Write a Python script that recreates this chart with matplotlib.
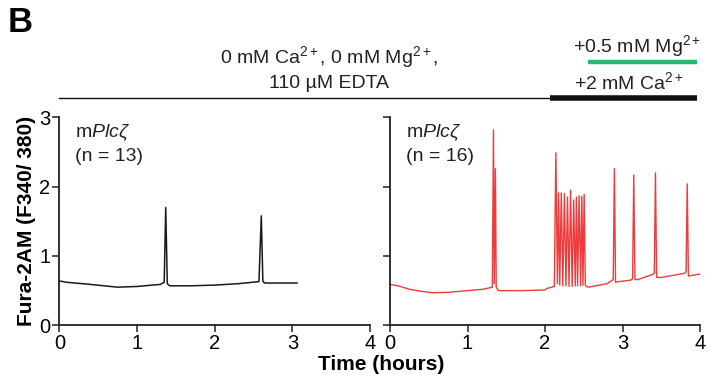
import numpy as np
import matplotlib
matplotlib.use("Agg")
import matplotlib.pyplot as plt
from matplotlib.lines import Line2D

plt.rcParams['font.family'] = ['Liberation Sans', 'DejaVu Sans']
plt.rcParams['mathtext.fontset'] = 'custom'
plt.rcParams['mathtext.rm'] = 'Liberation Sans'
plt.rcParams['mathtext.it'] = 'Liberation Sans:italic'
plt.rcParams['mathtext.bf'] = 'Liberation Sans:bold'

# left trace (0 mM Ca/Mg the whole time), hours vs F340/380
t_left = [0.0, 0.1, 0.4, 0.75, 1.0, 1.3, 1.35, 1.37, 1.39, 1.42, 1.7, 2.0, 2.3, 2.57, 2.6, 2.62, 2.64, 2.8, 3.06]
v_left = [0.64, 0.62, 0.59, 0.55, 0.56, 0.59, 0.62, 1.70, 0.60, 0.57, 0.57, 0.58, 0.60, 0.63, 1.58, 0.64, 0.61, 0.61, 0.61]

# right trace (Ca2+ and Mg2+ added back after ~2 h)
t_right = [0.0, 0.1, 0.25, 0.4, 0.55, 0.75, 1.0, 1.2, 1.32, 1.335, 1.345, 1.36, 1.37, 1.4, 1.7, 2.0, 2.02, 2.12,
           2.14, 2.16,
           2.175, 2.19, 2.21, 2.23, 2.25, 2.27, 2.29, 2.31, 2.33, 2.35, 2.37, 2.39, 2.405,
           2.42, 2.44, 2.46, 2.475, 2.49, 2.505, 2.52, 2.535,
           2.56, 2.8, 2.88, 2.895, 2.91, 2.95, 3.1, 3.13, 3.145, 3.16, 3.2, 3.38, 3.41, 3.425,
           3.44, 3.5, 3.8, 3.82, 3.835, 3.85, 4.0]
v_right = [0.59, 0.57, 0.52, 0.49, 0.47, 0.475, 0.50, 0.52, 0.55, 2.82, 0.60, 2.26, 0.55, 0.50, 0.50, 0.51, 0.53, 0.56,
           2.49, 0.60,
           1.91, 0.58, 1.91, 0.57, 1.90, 0.57, 1.85, 0.56, 1.95, 0.56, 1.81, 0.57, 1.85,
           0.57, 1.87, 0.57, 1.86, 0.58, 1.89, 0.58, 0.56,
           0.55, 0.60, 0.66, 2.26, 0.62, 0.63, 0.65, 0.67, 2.17, 0.66, 0.66, 0.73, 0.75, 2.20,
           0.69, 0.69, 0.75, 0.77, 2.04, 0.71, 0.74]

ca_start = 2.06
mg_start = 2.55
add_end = 3.96

fig = plt.figure(figsize=(7.13, 3.8), dpi=100)
ax1 = fig.add_axes([0.0832, 0.144, 0.4358, 0.547])
ax2 = fig.add_axes([0.547, 0.144, 0.4348, 0.547])

ax1.plot(t_left, v_left, color='#1a1a1a', lw=1.1)
ax2.plot(t_right, v_right, color='#ee3b3b', lw=1.0)

for ax in (ax1, ax2):
    ax.set_xlim(0, 4)
    ax.set_ylim(0, 3)
    ax.set_xticks([0, 1, 2, 3, 4])
    ax.set_yticks([0, 1, 2, 3])
    for s in ('top', 'right'):
        ax.spines[s].set_visible(False)
    for s in ('left', 'bottom'):
        ax.spines[s].set_linewidth(1.3)
        ax.spines[s].set_color('#222222')
    ax.tick_params(direction='out', length=5, width=1.1, labelsize=14.5, pad=1.5, color='#222222')
ax2.set_yticklabels([])

ax1.set_ylabel('Fura-2AM (F340/ 380)', fontsize=15, fontweight='bold', labelpad=2)
fig.text(0.534, 0.015, 'Time (hours)', fontsize=15, fontweight='bold', ha='center', va='bottom')

fs = 14
ax1.text(0.05, 0.975, r'm$\mathit{Plc\zeta}$', transform=ax1.transAxes, fontsize=fs, va='top', color='#222222')
ax1.text(0.05, 0.855, '(n = 13)', transform=ax1.transAxes, fontsize=fs, va='top', color='#222222')
ax2.text(0.05, 0.975, r'm$\mathit{Plc\zeta}$', transform=ax2.transAxes, fontsize=fs, va='top', color='#222222')
ax2.text(0.05, 0.855, '(n = 16)', transform=ax2.transAxes, fontsize=fs, va='top', color='#222222')

fig.text(0.01, 0.985, 'B', fontsize=25, fontweight='bold', va='top', ha='left')

# treatment bars above the panels
inv = fig.transFigure.inverted()
x_l0 = inv.transform(ax1.transData.transform((0, 0)))[0]
x_ca = inv.transform(ax2.transData.transform((ca_start, 0)))[0]
x_mg = inv.transform(ax2.transData.transform((mg_start, 0)))[0]
x_end = inv.transform(ax2.transData.transform((add_end, 0)))[0]
y_bar = 1 - 98 / 380
y_green = 1 - 62 / 380
fig.add_artist(Line2D([x_l0, x_ca], [y_bar, y_bar], color='#111111', lw=1.0))
fig.add_artist(Line2D([x_ca, x_end], [y_bar, y_bar], color='#111111', lw=4.0, solid_capstyle='butt'))
fig.add_artist(Line2D([x_mg, x_end], [y_green, y_green], color='#2bb673', lw=3.2, solid_capstyle='butt'))

fig.text(0.462, 1 - 57 / 380, r'0 mM Ca$^{2+}$, 0 mM Mg$^{2+}$,', fontsize=fs, ha='center', va='center', color='#222222')
fig.text(0.462, 1 - 84 / 380, '110 µM EDTA', fontsize=fs, ha='center', va='center', color='#222222')
fig.text(0.893, 1 - 46 / 380, r'+0.5 mM Mg$^{2+}$', fontsize=fs, ha='center', va='center', color='#222222')
fig.text(0.882, 1 - 82 / 380, r'+2 mM Ca$^{2+}$', fontsize=fs, ha='center', va='center', color='#222222')

fig.savefig('out.png', dpi=100)
